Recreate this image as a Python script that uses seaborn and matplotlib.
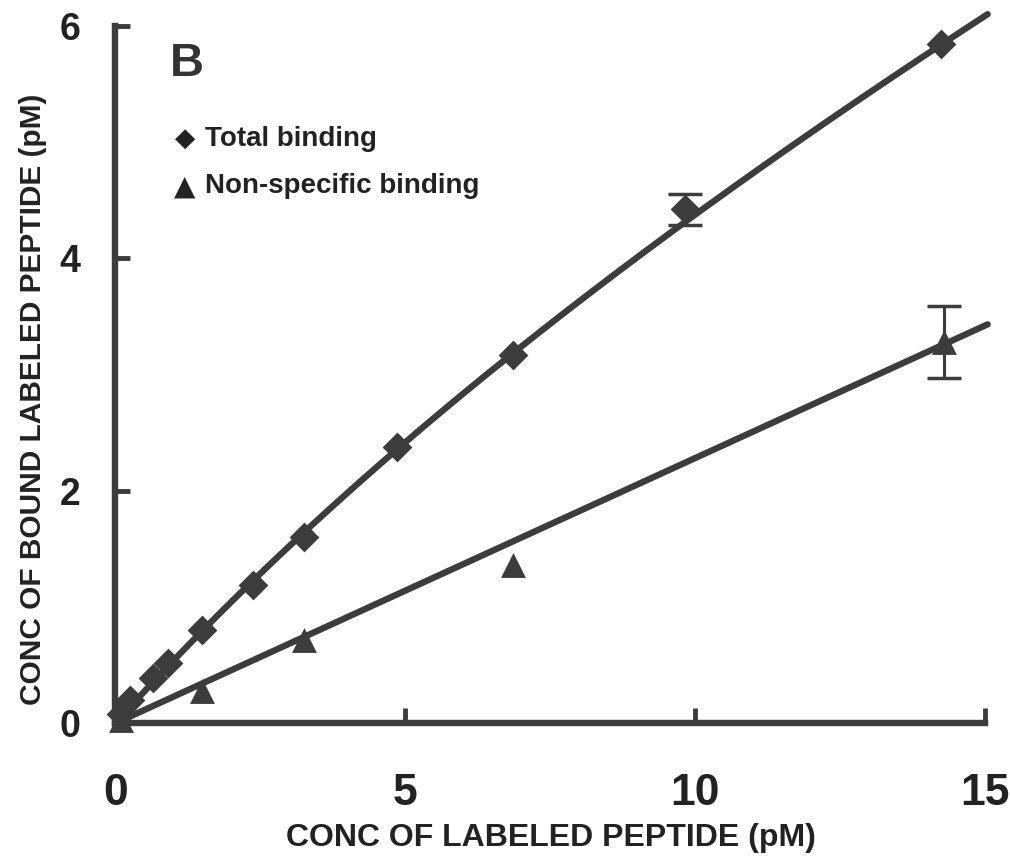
import numpy as np
import pandas as pd
import matplotlib
matplotlib.use("Agg")
import matplotlib.pyplot as plt
import seaborn as sns

# ---- data ----
total_x = [0.10, 0.26, 0.66, 0.92, 1.50, 2.38, 3.25, 4.87, 6.86, 9.83, 14.25]
total_y = [0.08, 0.20, 0.39, 0.52, 0.80, 1.19, 1.60, 2.38, 3.17, 4.42, 5.84]
total_err = [0, 0, 0, 0, 0, 0, 0, 0, 0, 0.13, 0]

ns_x = [0.10, 1.50, 3.25, 6.86, 14.30]
ns_y = [0.03, 0.28, 0.72, 1.36, 3.28]
ns_err = [0, 0, 0, 0, 0.31]

# fitted model parameters (specific: Bmax*x/(Kd+x), non-specific: slope*x)
fit_bmax = 5.84
fit_kd = 17.9
fit_ns_slope = 0.228

x_ticks = [0, 5, 10, 15]
y_ticks = [0, 2, 4, 6]

DARK = "#3c3c3c"
TEXT = "#222222"

sns.set_theme(style="white")
plt.rcParams['font.family'] = ['Liberation Sans', 'DejaVu Sans']

fig = plt.figure(figsize=(10.10, 8.56), dpi=100)
ax = fig.add_axes([0.114, 0.155, 0.861, 0.815])

xs = np.linspace(0, 15.05, 200)
curves = pd.DataFrame({
    "x": np.concatenate([xs, xs]),
    "y": np.concatenate([fit_bmax * xs / (fit_kd + xs) + fit_ns_slope * xs, fit_ns_slope * xs]),
    "series": ["Total"] * len(xs) + ["NS"] * len(xs),
})
sns.lineplot(data=curves, x="x", y="y", units="series", estimator=None,
             color=DARK, lw=4.6, ax=ax, clip_on=False, legend=False)


def draw_err(xv, yv, ev):
    sel = [(a, b, c) for a, b, c in zip(xv, yv, ev) if c > 0]
    if sel:
        a, b, c = zip(*sel)
        ax.errorbar(a, b, yerr=c, fmt="none", ecolor=DARK, elinewidth=2.2,
                    capsize=12, capthick=2.5, clip_on=False, zorder=4)


draw_err(total_x, total_y, total_err)
draw_err(ns_x, ns_y, ns_err)

sns.scatterplot(x=total_x, y=total_y, marker="D", s=230, color=DARK,
                edgecolor=DARK, linewidth=0, ax=ax, clip_on=False, zorder=5)
sns.scatterplot(x=ns_x, y=ns_y, marker="^", s=320, color=DARK,
                edgecolor=DARK, linewidth=0, ax=ax, clip_on=False, zorder=5)

ax.set_xlim(0, 15)
ax.set_ylim(0, 6)
for side in ["top", "right"]:
    ax.spines[side].set_visible(False)
for side in ["left", "bottom"]:
    ax.spines[side].set_color(DARK)
    ax.spines[side].set_linewidth(4.6)

ax.set_xticks(x_ticks)
ax.set_yticks(y_ticks)
ax.tick_params(axis="both", direction="in", length=11, width=3.5, color=DARK,
               left=True, bottom=True)
ax.tick_params(axis="x", pad=36)
ax.tick_params(axis="y", pad=25)
ax.set_xticklabels([str(t) for t in x_ticks], fontsize=32, fontweight="bold", color=TEXT)
ax.set_yticklabels([str(t) for t in y_ticks], fontsize=27, fontweight="bold", color=TEXT)

ax.set_xlabel("CONC OF LABELED PEPTIDE (pM)", fontsize=23, fontweight="bold", color=TEXT)
ax.set_ylabel("CONC OF BOUND LABELED PEPTIDE (pM)", fontsize=21.5, fontweight="bold", color=TEXT)
# label centres: x label at (551, 838) px, y label at (33, 399) px
ax.xaxis.set_label_coords((551 - 115) / 870, (723 - 838) / 697.6)
ax.yaxis.set_label_coords((33 - 115) / 870, (723 - 399) / 697.6)
ax.xaxis.label.set_va("center")
ax.yaxis.label.set_va("center")

ax.text(0.063, 0.945, "B", transform=ax.transAxes, fontsize=34, fontweight="bold",
        color="#333333", va="center", ha="left")

ax.text(0.080, 0.838, "\u25C6", transform=ax.transAxes, fontsize=19, color=TEXT,
        va="center", ha="center", family="DejaVu Sans")
ax.text(0.1035, 0.838, "Total binding", transform=ax.transAxes, fontsize=20,
        fontweight="bold", color=TEXT, va="center", ha="left")
ax.text(0.080, 0.770, "\u25B2", transform=ax.transAxes, fontsize=20, color=TEXT,
        va="center", ha="center", family="DejaVu Sans")
ax.text(0.1035, 0.770, "Non-specific binding", transform=ax.transAxes, fontsize=20,
        fontweight="bold", color=TEXT, va="center", ha="left")

fig.savefig("out.png", dpi=100, facecolor="white")
